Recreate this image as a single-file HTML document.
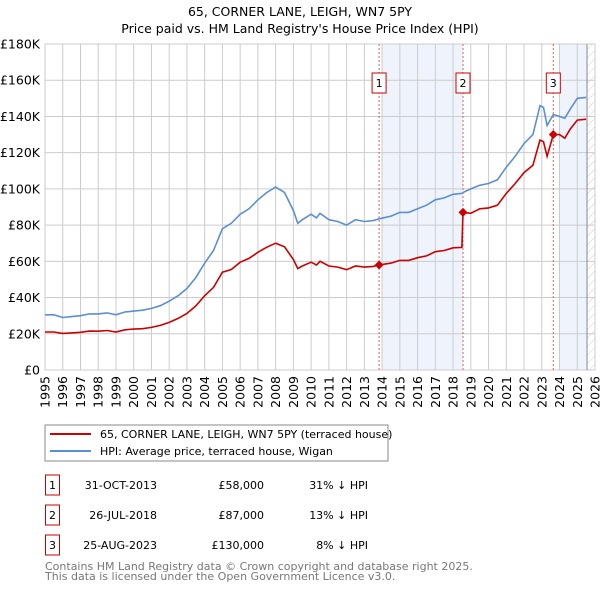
<!DOCTYPE html>
<html><head><meta charset="utf-8"><style>
body{margin:0;background:#fff;}
svg{display:block;font-family:"DejaVu Sans","Liberation Sans",sans-serif;}
</style></head><body>
<svg id="chart" width="600" height="590" xmlns="http://www.w3.org/2000/svg">
<defs><pattern id="hatch" width="6" height="6" patternUnits="userSpaceOnUse" patternTransform="rotate(45)"><line x1="0" y1="0" x2="0" y2="6" stroke="#ccc" stroke-width="1"/></pattern></defs>
<text x="300" y="16" text-anchor="middle" font-size="12.5">65, CORNER LANE, LEIGH, WN7 5PY</text>
<text x="300" y="33" text-anchor="middle" font-size="12.5">Price paid vs. HM Land Registry's House Price Index (HPI)</text>
<g id="plot"></g>
<rect x="45" y="425" width="343" height="36" fill="#fff" stroke="#888"/>
<line x1="50" y1="434" x2="91" y2="434" stroke="#cc0000" stroke-width="2"/>
<text x="100" y="438" font-size="11">65, CORNER LANE, LEIGH, WN7 5PY (terraced house)</text>
<line x1="50" y1="451" x2="91" y2="451" stroke="#5b8fd4" stroke-width="2"/>
<text x="100" y="455" font-size="11">HPI: Average price, terraced house, Wigan</text>
<g font-size="11" id="table"></g>
<text x="45" y="570" font-size="11" fill="#777">Contains HM Land Registry data © Crown copyright and database right 2025.</text>
<text x="45" y="580" font-size="11" fill="#777">This data is licensed under the Open Government Licence v3.0.</text>
</svg>
<script>
const times=[1995,1995.5,1996,1996.5,1997,1997.5,1998,1998.5,1999,1999.5,2000,2000.5,2001,2001.5,2002,2002.5,2003,2003.5,2004,2004.5,2005,2005.5,2006,2006.5,2007,2007.5,2008,2008.5,2009,2009.25,2009.5,2010,2010.3,2010.5,2011,2011.5,2012,2012.5,2013,2013.5,2013.83,2014.5,2015,2015.5,2016,2016.5,2017,2017.5,2018,2018.5,2018.56,2019,2019.5,2020,2020.5,2021,2021.5,2022,2022.5,2022.9,2023.1,2023.3,2023.65,2024,2024.3,2024.6,2025,2025.5];
const hpiValues=[30.5,30.5,29,29.5,30,31,31,31.5,30.5,32,32.5,33,34,35.5,38,41,45,51,59,66,78,81,86,89,94,98,101,98,88,81,83,86,84,86.5,83,82,80,83,82,82.5,83.5,85,87,87,89,91,94,95,97,97.5,98,100,102,103,105,112,118,125,130,146,145,135,141,140,139,144,150,150.5];
const priceValues=[21,21,20.2,20.5,20.8,21.5,21.4,21.8,21,22.2,22.6,22.8,23.5,24.6,26.3,28.5,31.2,35.4,41,45.6,54,55.5,59.5,61.6,65,67.8,70,68,61,56,57.4,59.5,58,60,57.4,56.8,55.4,57.4,56.8,57.2,58,59,60.5,60.5,62,63,65.3,66,67.5,67.7,87,86.5,89,89.5,91,97.5,103,109,113,127,126,118,130,130,128,133,138,138.5];
const saleTimes=[2013.83,2018.56,2023.65];
const saleValues=[58,87,130];
const saleLabels=["1","2","3"];
const saleDates=["31-OCT-2013","26-JUL-2018","25-AUG-2023"];
const salePrices=["£58,000","£87,000","£130,000"];
const saleDiffs=["31% ↓ HPI","13% ↓ HPI","8% ↓ HPI"];
const yTicks=[0,20,40,60,80,100,120,140,160,180];
const yTickLabels=["£0","£20K","£40K","£60K","£80K","£100K","£120K","£140K","£160K","£180K"];
const xYears=[1995,1996,1997,1998,1999,2000,2001,2002,2003,2004,2005,2006,2007,2008,2009,2010,2011,2012,2013,2014,2015,2016,2017,2018,2019,2020,2021,2022,2023,2024,2025,2026];
const shadeRanges=[[2014,2018.56],[2024,2025.55]];

const NS="http://www.w3.org/2000/svg";
const X0=45,X1=595,Y0=370,Y1=44;
const xs=t=>X0+(t-1995)/(2026-1995)*(X1-X0);
const ys=v=>Y0-v/180*(Y0-Y1);
const plot=document.getElementById('plot');
function mk(tag,attrs,parent){const e=document.createElementNS(NS,tag);for(const k in attrs)e.setAttribute(k,attrs[k]);(parent||plot).appendChild(e);return e;}

shadeRanges.forEach(r=>{
 const e=mk('rect',{x:xs(r[0]),y:Y1,width:xs(r[1])-xs(r[0]),height:Y0-Y1,fill:'#eef3fc'});
 
 
});
const h=mk('rect',{x:xs(2025.55),y:Y1,width:X1-xs(2025.55),height:Y0-Y1,fill:'url(#hatch)'});



xYears.forEach(yr=>{
 const x=xs(yr);
 const g=mk('line',{x1:x,y1:Y1,x2:x,y2:Y0,stroke:'#ccc','stroke-width':1});
 
 
 const t=mk('text',{x:0,y:0,'font-size':12.5,'text-anchor':'end',transform:`translate(${x+4.5},${Y0+6}) rotate(-90)`});
 t.textContent=yr;
 
 
});
yTicks.forEach((v,i)=>{
 const y=ys(v);
 const g=mk('line',{x1:X0,y1:y,x2:X1,y2:y,stroke:'#ccc','stroke-width':1});
 
 
 const t=mk('text',{x:40,y:y+4.5,'font-size':12.5,'text-anchor':'end'});
 t.textContent=yTickLabels[i];
 
 
});
const nowLine=mk('line',{x1:xs(2025.55),y1:Y1,x2:xs(2025.55),y2:Y0,stroke:'#888','stroke-width':1});



saleTimes.forEach((t,i)=>{
 const x=xs(t);
 const l=mk('line',{x1:x,y1:Y1,x2:x,y2:Y0,stroke:'#e06060','stroke-width':1,'stroke-dasharray':'2,2'});
 
 
 const b=mk('rect',{x:x-7,y:73,width:14,height:20,fill:'#fff',stroke:'#cc0000'});
 
 
 const tx=mk('text',{x:x,y:87,'font-size':11,'text-anchor':'middle'});
 tx.textContent=saleLabels[i];
 
 
});

const pts=a=>a.map((v,i)=>xs(times[i]).toFixed(1)+','+ys(v).toFixed(1)).join(' ');
const hl=mk('polyline',{points:pts(hpiValues),fill:'none',stroke:'#5b8fd4','stroke-width':1.6});


const pl=mk('polyline',{points:pts(priceValues),fill:'none',stroke:'#cc0000','stroke-width':1.6});


saleTimes.forEach((t,i)=>{
 const x=xs(t),y=ys(saleValues[i]);
 const d=mk('polygon',{points:`${x},${y-4.5} ${x+4.5},${y} ${x},${y+4.5} ${x-4.5},${y}`,fill:'#cc0000'});
 
 
});

const table=document.getElementById('table');
saleLabels.forEach((lab,i)=>{
 const y=485+i*30;
 const b=mk('rect',{x:45.5,y:y-10,width:14,height:20,fill:'#fff',stroke:'#cc0000'},table);
 
 
 const cells=[[52.5,lab,'middle','table-index'],[157,saleDates[i],'end','table-date'],[264,salePrices[i],'end','table-price'],[368,saleDiffs[i],'end','table-hpi-diff']];
 cells.forEach(c=>{
  const t=mk('text',{x:c[0],y:y+4,'text-anchor':c[2]},table);
  t.textContent=c[1];
  
  
 });
});
</script>
</body></html>
